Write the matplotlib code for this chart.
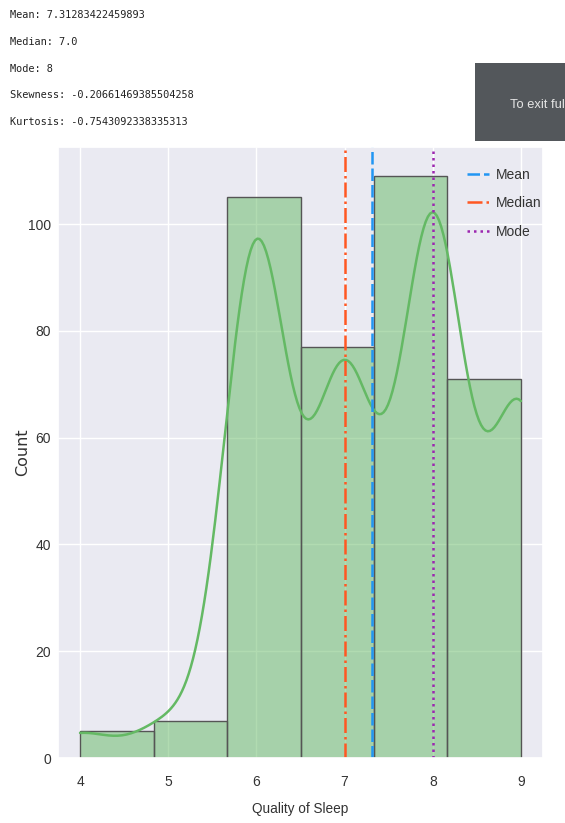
import numpy as np
import pandas as pd
import matplotlib
matplotlib.use("Agg")
import matplotlib.pyplot as plt
import seaborn as sns

# Quality of Sleep ratings and how many people gave each rating
quality_levels = [4, 5, 6, 7, 8, 9]
level_counts = [5, 7, 105, 77, 109, 71]

mean_label = "7.31283422459893"
median_label = "7.0"
mode_label = "8"
skew_label = "-0.20661469385504258"
kurt_label = "-0.7543092338335313"

mean_val = float(mean_label)
median_val = float(median_label)
mode_val = float(mode_label)

df = pd.DataFrame({"Quality of Sleep": np.repeat(quality_levels, level_counts)})

sns.set_theme(style="darkgrid")
SANS = ["Liberation Sans", "DejaVu Sans"]
plt.rcParams["font.family"] = SANS

fig = plt.figure(figsize=(5.65, 8.23), dpi=100)
fig.patch.set_facecolor("white")

# summary statistics printed above the chart
stats_lines = [
    f"Mean: {mean_label}",
    f"Median: {median_label}",
    f"Mode: {mode_label}",
    f"Skewness: {skew_label}",
    f"Kurtosis: {kurt_label}",
]
for i, line in enumerate(stats_lines):
    fig.text(10 / 565, 1 - (15 + i * 26.8) / 823, line, family="DejaVu Sans Mono",
             fontsize=7.4, color="#222222", va="center", ha="left")

# full-screen hint overlay in the corner
overlay = plt.Rectangle((475 / 565, 1 - 141 / 823), 0.2, 78 / 823,
                        transform=fig.transFigure, facecolor="#53575b",
                        edgecolor="none", zorder=5)
fig.patches.append(overlay)
fig.text(510 / 565, 1 - 105 / 823, "To exit ful",
         color="#e6e6e6", fontsize=9.3, family=SANS, va="center",
         ha="left", zorder=6)

ax = fig.add_axes([58 / 565, 1 - 758 / 823, (543 - 58) / 565, (758 - 147) / 823])

green = "#64b964"
sns.histplot(data=df, x="Quality of Sleep", bins=6, kde=True, color=green,
             alpha=0.5, edgecolor="#555555", linewidth=1.0, ax=ax,
             line_kws={"linewidth": 1.8})

ax.axvline(mean_val, color="#2196f3", linestyle=(0, (5, 1.6)), linewidth=1.8,
           label="Mean")
ax.axvline(median_val, color="#ff5722", linestyle=(0, (6, 1.6, 1, 1.6)),
           linewidth=1.8, label="Median")
ax.axvline(mode_val, color="#9c27b0", linestyle=(0, (1, 1.6)), linewidth=1.8,
           label="Mode")

ax.set_xticks(quality_levels)
ax.set_yticks([0, 20, 40, 60, 80, 100])
ax.tick_params(axis="both", labelsize=10, colors="#333333", length=0)
ax.tick_params(axis="y", pad=5)
ax.tick_params(axis="x", pad=12)
ax.set_xlabel("Quality of Sleep", fontsize=9.8, color="#333333")
ax.set_ylabel("Count", fontsize=11.5, family="DejaVu Sans", color="#333333")
ax.xaxis.set_label_coords(0.5, -0.072)
ax.yaxis.set_label_coords(-0.058, 0.5)

leg = ax.legend(loc="upper left", frameon=False, fontsize=10,
                labelspacing=1.05, handlelength=1.6, handletextpad=0.5,
                borderaxespad=0.0, borderpad=0.0,
                bbox_to_anchor=(0.843, 0.966))
for t in leg.get_texts():
    t.set_color("#333333")

fig.savefig("out.png", dpi=100, facecolor="white")
